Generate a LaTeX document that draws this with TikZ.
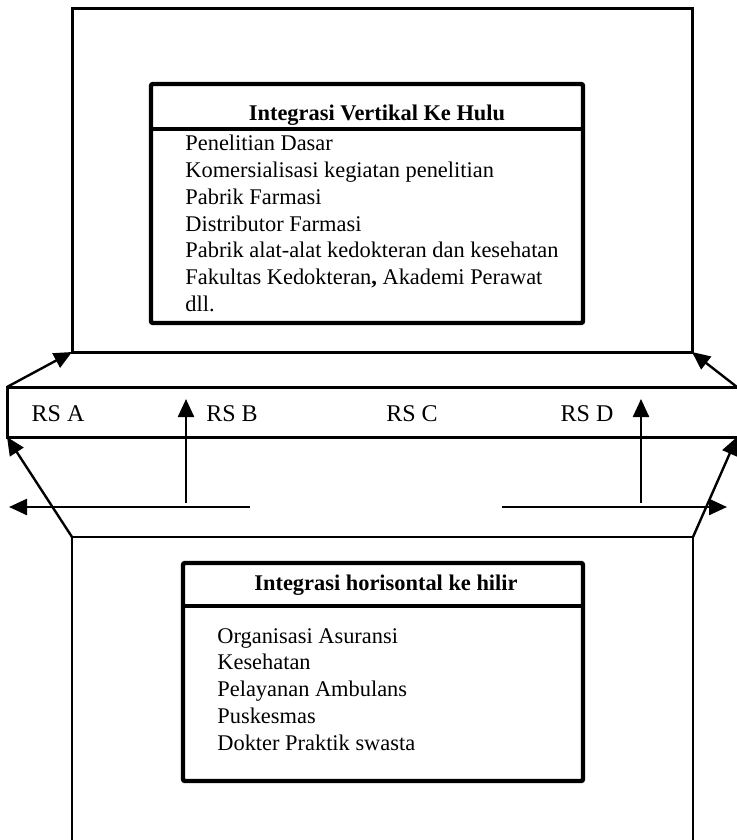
\documentclass[tikz,border=0pt]{standalone}
\usepackage{fontspec}
\setmainfont{Liberation Serif}
\usetikzlibrary{arrows.meta}

\begin{document}
\begin{tikzpicture}[x=0.5pt, y=-0.5pt,
    outerbox/.style={draw, line width=1.5pt, inner sep=0pt, outer sep=0pt},
    innerbox/.style={draw, line width=2.2pt, rounded corners=1pt, inner sep=0pt, outer sep=0pt},
    itemtext/.style={align=left, anchor=north west, inner sep=0pt, font=\fontsize{11.2}{13.35}\selectfont},
    headtext/.style={anchor=base, inner sep=0pt, font=\fontsize{11.2}{13.35}\selectfont\bfseries},
    rstext/.style={anchor=base, inner sep=0pt, font=\fontsize{12}{14}\selectfont},
    link/.style={-{Triangle[length=9pt,width=8pt]}, line width=1.2pt}]
    \useasboundingbox (0,0) rectangle (737,840);

    % draw upper block
    \node[outerbox, minimum width=310pt, minimum height=171.5pt] (hulu) at (382,180.5) {};
    \node[innerbox, minimum width=216pt, minimum height=119.5pt] (huluin) at (367,203.5) {};
    \coordinate (hulusplit) at (0,129);
    \draw[line width=2.2pt] (huluin.west |- hulusplit) -- (huluin.east |- hulusplit);
    \node[headtext] (huluhead) at (377,120) {Integrasi Vertikal Ke Hulu};
    \node[itemtext] (huluitems) at (185,135) {Penelitian Dasar\\
        Komersialisasi kegiatan penelitian\\
        Pabrik Farmasi\\
        Distributor Farmasi\\
        Pabrik alat-alat kedokteran dan kesehatan\\
        Fakultas Kedokteran{\bfseries,} Akademi Perawat\\
        dll.};

    % draw hospital band
    \node[outerbox, minimum width=380pt, minimum height=25pt] (band) at (387,412) {};
    \coordinate (bandtr) at (737,387);
    \coordinate (bandbr) at (737,437);
    \foreach \x/\name in {58/A, 232/B, 412/C, 587/D}
        \node[rstext] (rs\name) at (\x,421) {RS \name};

    % draw lower block
    \node[outerbox, line width=1pt, minimum width=310.5pt, minimum height=166.5pt] (hilir) at (382.5,703.5) {};
    \node[innerbox, minimum width=200pt, minimum height=109pt] (hilirin) at (383,672) {};
    \coordinate (hilirsplit) at (0,606);
    \draw[line width=2.2pt] (hilirin.west |- hilirsplit) -- (hilirin.east |- hilirsplit);
    \node[headtext] (hilirhead) at (386,590) {Integrasi horisontal ke hilir};
    \node[itemtext] (hiliritems) at (217,628) {Organisasi Asuransi\\
        Kesehatan\\
        Pelayanan Ambulans\\
        Puskesmas\\
        Dokter Praktik swasta};

    % draw corner arrows
    \draw[link] (band.north west) -- (hulu.south west);
    \draw[link] (bandtr) -- (hulu.south east);
    \draw[link] (hilir.north west) -- (band.south west);
    \draw[link] (hilir.north east) -- (bandbr);

    % draw side arrows
    \coordinate (leftfrom) at (250,507);
    \coordinate (leftto) at (9,507);
    \coordinate (rightfrom) at (502,507);
    \coordinate (rightto) at (727,507);
    \draw[link] (leftfrom) -- (leftto);
    \draw[link] (rightfrom) -- (rightto);
    \foreach \x/\name in {186/B, 641/D} {
        \coordinate (foot\name) at (\x,503);
        \coordinate (tip\name) at (\x,399);
        \draw[link] (foot\name) -- (tip\name);
    }

\end{tikzpicture}
\end{document}
